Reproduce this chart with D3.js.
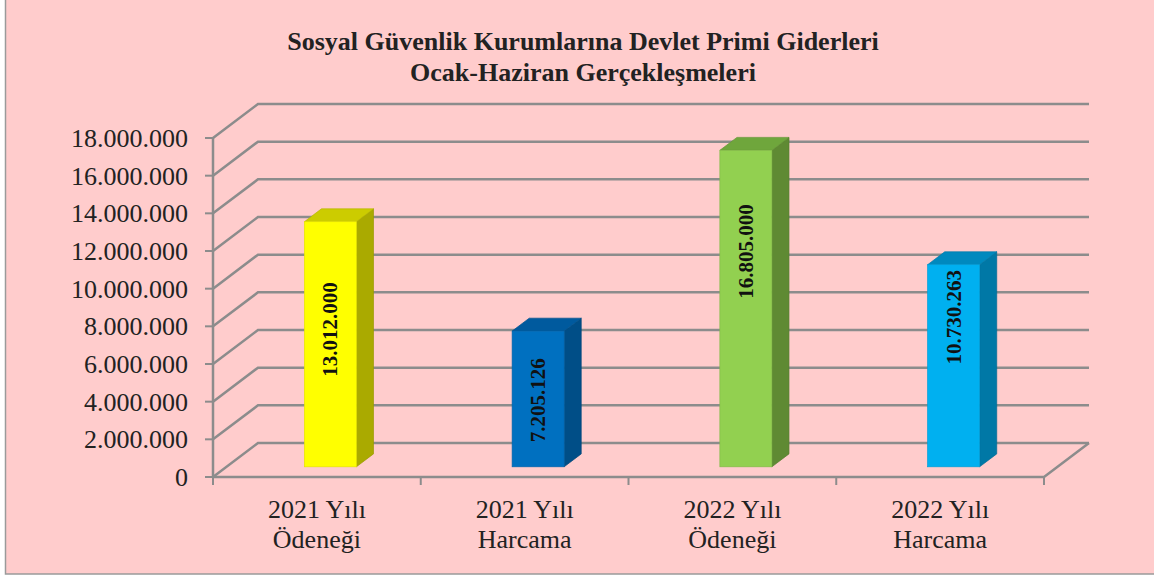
<!DOCTYPE html>
<html>
<head>
<meta charset="utf-8">
<script src="https://cdn.jsdelivr.net/npm/d3@7"></script>
<style>
  body { margin: 0; background: #fff; }
  svg { display: block; }
  svg text { font-family: "Liberation Serif", "Times New Roman", "DejaVu Serif", serif; }
</style>
</head>
<body>
<svg id="chart" width="1154" height="579"></svg>
<script>
// data
let categories = [["2021 Yılı", "Ödeneği"], ["2021 Yılı", "Harcama"], ["2022 Yılı", "Ödeneği"], ["2022 Yılı", "Harcama"]];
let values = [13012000, 7205126, 16805000, 10730263];
let yTicks = [0, 2000000, 4000000, 6000000, 8000000, 10000000, 12000000, 14000000, 16000000, 18000000];
let titleLines = ["Sosyal Güvenlik Kurumlarına Devlet Primi Giderleri", "Ocak-Haziran Gerçekleşmeleri"];
let fronts = ["#FFFF00", "#0070C0", "#92D050", "#00B0F0"];
let sides  = ["#AAAA00", "#004E87", "#5F8A33", "#0078A6"];
let tops   = ["#CCCC00", "#005A9E", "#6FA63C", "#0089BE"];

let svg = d3.select("#chart");

// pink backdrop + border
svg.append("rect")
   .attr("x", 5.5).attr("y", -3)
   .attr("width", 1160).attr("height", 577)
   .attr("fill", "#FFCCCC")
   .attr("stroke", "#9a9a9a")
   .attr("stroke-width", 1.5);

let nf = d3.formatLocale({decimal: ",", thousands: ".", grouping: [3], currency: ["", ""]}).format(",d");

let x = d3.scaleBand().domain(d3.range(categories.length)).range([213, 1044]);
let y = d3.scaleLinear().domain([0, 18000000]).range([477, 138]);

// 3d depth of the floor
let dX = 45, dY = -34;
let grid = "#8C8C8C";

let g = svg.append("g");

// back wall + left wall gridlines
yTicks.forEach(function(t) {
  let yy = y(t);
  g.append("path")
   .attr("d", "M" + x.range()[0] + "," + yy + "L" + (x.range()[0] + dX) + "," + (yy + dY) + "L" + (x.range()[1] + dX) + "," + (yy + dY))
   .attr("fill", "none").attr("stroke", grid).attr("stroke-width", 2.5);
  // tick marks
  g.append("line")
   .attr("x1", x.range()[0] - 8).attr("x2", x.range()[0])
   .attr("y1", yy).attr("y2", yy)
   .attr("stroke", grid).attr("stroke-width", 2);
  g.append("text")
   .attr("x", 188).attr("y", yy + 9)
   .attr("text-anchor", "end")
   .attr("font-size", 26).attr("fill", "#222")
   .text(nf(t));
});

// floor
g.append("path")
 .attr("d", "M" + x.range()[0] + "," + y(0) + "L" + x.range()[1] + "," + y(0) + "L" + (x.range()[1] + dX) + "," + (y(0) + dY))
 .attr("fill", "none").attr("stroke", grid).attr("stroke-width", 2.5);

// vertical axis
g.append("line")
 .attr("x1", x.range()[0]).attr("x2", x.range()[0])
 .attr("y1", y(18000000)).attr("y2", y(0))
 .attr("stroke", grid).attr("stroke-width", 2.5);

// category ticks
d3.range(categories.length + 1).forEach(function(i) {
  let xx = x.range()[0] + i * x.bandwidth();
  g.append("line")
   .attr("x1", xx).attr("x2", xx)
   .attr("y1", y(0)).attr("y2", y(0) + 8)
   .attr("stroke", grid).attr("stroke-width", 2);
});

// bars
let t0 = 0.3, depth = 0.38, barW = 52;
// where the label sits along the bar (fraction of height from the bottom), as placed in the original
let labelAt = [0.56, 0.49, 0.68, 0.74];
let bars = g.selectAll(".bar").data(values).enter().append("g").attr("class", "bar");

bars.each(function(v, i) {
  let b = d3.select(this);
  let x0 = x(i) + (x.bandwidth() - barW) / 2 + dX * t0;
  let x1 = x0 + barW;
  let yb = y(0) + dY * t0;
  let yt = yb - (y(0) - y(v));
  let ox = dX * depth, oy = dY * depth;

  // side
  b.append("path")
   .attr("d", "M" + x1 + "," + yb + "L" + (x1 + ox) + "," + (yb + oy) + "L" + (x1 + ox) + "," + (yt + oy) + "L" + x1 + "," + yt + "Z")
   .attr("fill", sides[i]).attr("stroke", d3.color(sides[i]).darker(0.3)).attr("stroke-width", 0.7);
  // top
  b.append("path")
   .attr("d", "M" + x0 + "," + yt + "L" + x1 + "," + yt + "L" + (x1 + ox) + "," + (yt + oy) + "L" + (x0 + ox) + "," + (yt + oy) + "Z")
   .attr("fill", tops[i]).attr("stroke", d3.color(tops[i]).darker(0.3)).attr("stroke-width", 0.7);
  // front
  b.append("rect")
   .attr("x", x0).attr("y", yt)
   .attr("width", barW).attr("height", yb - yt)
   .attr("fill", fronts[i]).attr("stroke", d3.color(fronts[i]).darker(0.3)).attr("stroke-width", 0.7);

  // value label, rotated
  let cx = x0 + barW / 2, cy = yb - (yb - yt) * labelAt[i];
  b.append("text")
   .attr("transform", "translate(" + (cx + 7) + "," + cy + ") rotate(-90)")
   .attr("text-anchor", "middle")
   .attr("font-size", 21).attr("font-weight", "bold").attr("fill", "#111")
   .text(nf(v));
});

// category labels
categories.forEach(function(c, i) {
  let cx = x(i) + x.bandwidth() / 2;
  let t = g.append("text").attr("text-anchor", "middle").attr("font-size", 26).attr("fill", "#222");
  t.append("tspan").attr("x", cx).attr("y", 518).text(c[0]);
  t.append("tspan").attr("x", cx).attr("y", 548).text(c[1]);
});

// title
let tt = svg.append("text").attr("text-anchor", "middle").attr("font-size", 26).attr("font-weight", "bold").attr("fill", "#222");
titleLines.forEach(function(l, i) {
  tt.append("tspan").attr("x", 583).attr("y", 50 + i * 31).text(l);
});
</script>
</body>
</html>
